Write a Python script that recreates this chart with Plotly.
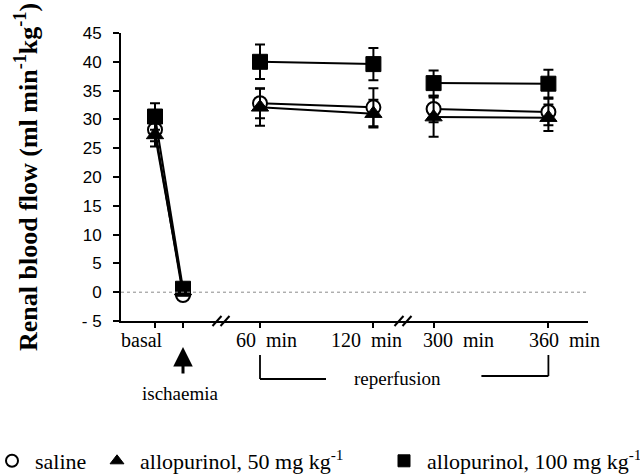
import plotly.graph_objects as go

# ---- data ----
time_labels = ["basal", "", "60\u00a0 min", "120\u00a0 min", "300\u00a0 min", "360\u00a0 min"]
x_pos = [0, 1, 3.75, 7.8, 9.95, 14.05]          # axis positions of the time points
saline = [28.2, -0.5, 32.8, 32.1, 31.8, 31.3]
saline_err = [2.0, 0.3, 2.6, 3.3, 2.3, 2.3]
allo50 = [27.3, 0.2, 32.1, 31.0, 30.4, 30.3]
allo50_err = [2.0, 0.3, 3.2, 2.4, 3.4, 2.3]
allo100 = [30.5, 0.6, 40.0, 39.6, 36.3, 36.2]
allo100_err = [2.3, 0.3, 3.0, 2.8, 2.2, 2.4]
y_ticks = [-5, 0, 5, 10, 15, 20, 25, 30, 35, 40, 45]
segments = [(0, 2), (2, 4), (4, 6)]

SERIF = "Liberation Serif"
SANS = "Liberation Sans"

series = [
    ("saline", saline, saline_err, dict(symbol="circle", size=14, color="white", line=dict(color="black", width=2))),
    ("allopurinol, 50 mg kg<sup>-1</sup>", allo50, allo50_err, dict(symbol="triangle-up", size=15, color="black", line=dict(color="black", width=1))),
    ("allopurinol, 100 mg kg<sup>-1</sup>", allo100, allo100_err, dict(symbol="square", size=15, color="black", line=dict(color="black", width=1))),
]

plot_l, plot_r, plot_t, plot_b = 121, 588, 33, 321
pw, ph = plot_r - plot_l, plot_b - plot_t
x_range = [-(155 - plot_l) / 28, (plot_r - 155) / 28]

def px_to_paper_x(px):
    return (px - plot_l) / pw

def px_to_paper_y(py):
    return (plot_b - py) / ph

def data_to_paper_x(xv, dpx=0):
    frac = (xv - x_range[0]) / (x_range[1] - x_range[0])
    return frac + dpx / pw

fig = go.Figure()
for name, vals, errs, mk in series:
    for a, b in segments:
        fig.add_trace(go.Scatter(
            x=x_pos[a:b], y=vals[a:b], mode="lines+markers",
            line=dict(color="black", width=2), marker=mk,
            error_y=dict(type="data", array=errs[a:b], visible=True, color="black", thickness=2, width=5),
            showlegend=False, hoverinfo="skip"))

# legend-only entries, each in its own legend
legend_x_px = [-11, 94, 381]
legend_names = ["legend", "legend2", "legend3"]
for (name, vals, errs, mk), lg in zip(series, legend_names):
    m = dict(mk)
    m["size"] = 12
    fig.add_trace(go.Scatter(x=[None], y=[None], mode="markers", marker=m, name=name,
                             showlegend=True, legend=lg))

legend_common = dict(orientation="h", yanchor="middle", y=px_to_paper_y(461), xanchor="left",
                     font=dict(family=SERIF, size=22, color="black"), bgcolor="rgba(0,0,0,0)",
                     itemwidth=36)
layout_legends = {}
for lg, lx in zip(legend_names, legend_x_px):
    layout_legends[lg] = dict(legend_common, x=px_to_paper_x(lx))

def pline(x0, y0, x1, y1, w=1.8):
    return dict(type="line", xref="paper", yref="paper", x0=x0, y0=y0, x1=x1, y1=y1,
                line=dict(color="black", width=w), layer="above")

shapes = []
# dotted zero reference line
shapes.append(dict(type="line", xref="paper", x0=0, x1=1, yref="y", y0=0, y1=0,
                   line=dict(color="#8a8a8a", width=1, dash="dot")))
# axis break marks
for i in (1, 3):
    mid = (x_pos[i] + x_pos[i + 1]) / 2
    for d in (-4, 4):
        shapes.append(pline(data_to_paper_x(mid, d - 5), px_to_paper_y(plot_b + 5),
                            data_to_paper_x(mid, d + 4), px_to_paper_y(plot_b - 5), w=2))
# reperfusion bracket
left, right = x_pos[2], x_pos[5]
yb0, ybl, ybr = px_to_paper_y(355), px_to_paper_y(379), px_to_paper_y(376)
shapes += [
    pline(data_to_paper_x(left), yb0, data_to_paper_x(left), ybl),
    pline(data_to_paper_x(left), ybl, data_to_paper_x(left, 66), ybl),
    pline(data_to_paper_x(right), yb0, data_to_paper_x(right), ybr),
    pline(data_to_paper_x(right, -67), ybr, data_to_paper_x(right), ybr),
]

annotations = []
label_shift = [-13, 0, 6, -7, 25, 16]
for xp, lab, sh in zip(x_pos, time_labels, label_shift):
    if lab:
        annotations.append(dict(x=xp, xref="x", y=px_to_paper_y(340), yref="paper", text=lab,
                                showarrow=False, xshift=sh, yanchor="middle",
                                font=dict(family=SERIF, size=20, color="black")))
# ischaemia arrow and label
annotations.append(dict(x=x_pos[1], xref="x", y=px_to_paper_y(347), yref="paper", text="",
                        showarrow=True, ax=0, ay=28, arrowhead=2, arrowsize=1.3, arrowwidth=3,
                        arrowcolor="black"))
annotations.append(dict(x=x_pos[1], xref="x", y=px_to_paper_y(393), yref="paper", text="ischaemia",
                        showarrow=False, xshift=-3, yanchor="middle",
                        font=dict(family=SERIF, size=19, color="black")))
annotations.append(dict(x=(x_pos[2] + x_pos[5]) / 2, xref="x", y=px_to_paper_y(378), yref="paper",
                        text="reperfusion", showarrow=False, xshift=-7, yanchor="middle",
                        font=dict(family=SERIF, size=19, color="black")))
# y-axis title
annotations.append(dict(x=px_to_paper_x(26), xref="paper", y=0.5, yref="paper",
                        text="<b>Renal blood flow (ml min<sup>-1</sup>kg<sup>-1</sup>)</b>",
                        textangle=-90, showarrow=False, xanchor="center", yanchor="middle",
                        font=dict(family=SERIF, size=26, color="black")))

fig.update_layout(
    width=640, height=474,
    margin=dict(l=plot_l, r=640 - plot_r, t=plot_t, b=474 - plot_b, autoexpand=False),
    paper_bgcolor="white", plot_bgcolor="white",
    showlegend=True,
    shapes=shapes, annotations=annotations,
    **layout_legends,
)
fig.update_xaxes(range=x_range, tickvals=x_pos, showticklabels=False,
                 ticks="outside", ticklen=5, tickwidth=1.5, tickcolor="black",
                 showline=True, linecolor="black", linewidth=2, showgrid=False, zeroline=False)
fig.update_yaxes(range=[-5, 45], tickvals=y_ticks,
                 ticktext=[f"- {abs(v)}" if v < 0 else str(v) for v in y_ticks],
                 ticks="outside", ticklen=6, tickwidth=1.5, tickcolor="black",
                 tickfont=dict(family=SANS, size=17, color="black"), ticklabelstandoff=8,
                 showline=True, linecolor="black", linewidth=2, showgrid=False, zeroline=False)

fig.write_html("out.html", config={"displayModeBar": False},
               post_script="document.body.style.margin='0px';")
